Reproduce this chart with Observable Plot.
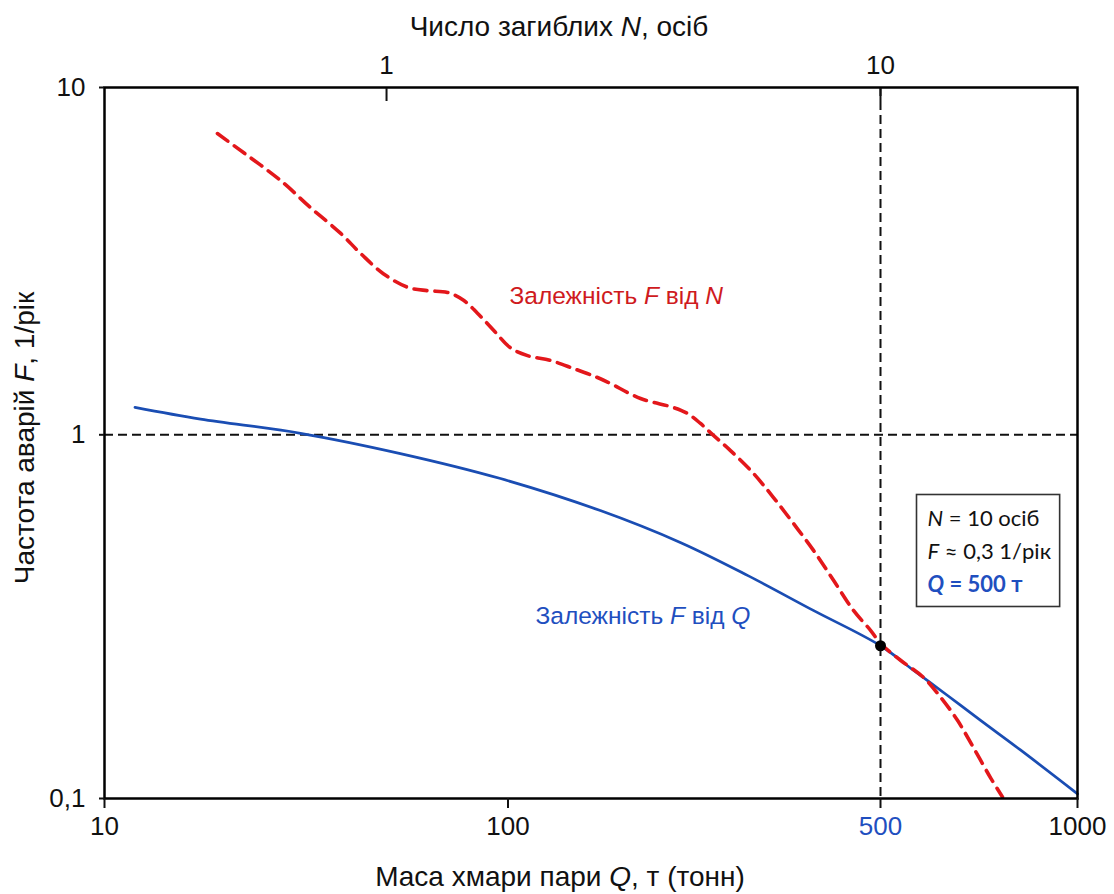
<!DOCTYPE html>
<html><head><meta charset="utf-8">
<script src="https://cdn.jsdelivr.net/npm/d3@7"></script>
<script src="https://cdn.jsdelivr.net/npm/@observablehq/plot@0.6"></script>
<style>
  body { margin: 0; background: #fff; }
  #chart svg { display: block; }
</style>
</head><body><div id="chart"></div>
<script>
// ---- tick values ----
const qTicks = [10, 100, 500, 1000];        // bottom axis: mass of vapour cloud Q, t
const qHighlight = 500;                      // highlighted tick (blue)
const nTicks = [1, 10];                      // top axis: number of fatalities N
const fTicks = [0.1, 1, 10];                 // left axis: frequency F, 1/year
const qPerVictim = 50;                       // N = 10 ↔ Q = 500 t (top/bottom axis relation)

// ---- F vs Q (blue solid) ----
const blueQ = [11.9, 17.3, 30.6, 54.1, 95.8, 149, 211, 282, 374, 500, 562, 633, 711, 818, 1000];
const blueF = [1.20, 1.11, 1.01, 0.888, 0.758, 0.619, 0.505, 0.410, 0.329, 0.263, 0.225, 0.192, 0.164, 0.136, 0.103];

// ---- F vs N (red dashed) ----
const redN = [0.381, 0.418, 0.546, 0.648, 0.770, 0.862, 0.982, 1.128, 1.264, 1.416, 1.552, 1.680, 1.842, 2.022,
              2.176, 2.404, 2.654, 2.944, 3.114, 3.546, 4.09, 4.344, 4.594, 4.86, 5.23, 5.776, 6.298, 6.868, 7.486,
              8.162, 8.898, 9.578, 10, 10.73, 11.64, 12.35, 13.11, 13.87, 14.73, 15.36];
const redF = [7.37, 6.81, 5.40, 4.51, 3.80, 3.33, 2.91, 2.66, 2.60, 2.57, 2.44, 2.24, 2.00, 1.78,
              1.69, 1.637, 1.552, 1.462, 1.405, 1.272, 1.198, 1.152, 1.078, 0.996, 0.905, 0.783, 0.672, 0.570, 0.481,
              0.398, 0.329, 0.290, 0.267, 0.240, 0.215, 0.190, 0.164, 0.138, 0.114, 0.101];

// ---- highlighted point ----
const pointQ = [500];
const pointF = [0.263];

// ---- texts ----
const topTitle = "Число загиблих N, осіб";
const bottomTitle = "Маса хмари пари Q, т (тонн)";
const leftTitle = "Частота аварій F, 1/рік";
const redLabel = "Залежність F від N";
const blueLabel = "Залежність F від Q";
const boxLines = ["N = 10 осіб", "F ≈ 0,3 1/рік", "Q = 500 т"];

const blueData = blueQ.map((q, i) => ({Q: q, F: blueF[i]}));
const redData = redN.map((n, i) => ({N: n, F: redF[i]}));
const pointData = pointQ.map((q, i) => ({Q: q, F: pointF[i]}));

const BLUE = "#1a4db3", RED = "#e3171b", RED_TXT = "#cf1a20", BLUE_TXT = "#1f4fbf";
const SANS = "'Liberation Sans', Arial, sans-serif";
const BOXFONT = "Lato, 'Open Sans', sans-serif";

const chart = Plot.plot({
  width: 1114, height: 894,
  marginLeft: 104, marginRight: 37, marginTop: 87, marginBottom: 96,
  style: {fontFamily: SANS, background: "#fff", color: "#111", overflow: "visible"},
  x: {type: "log", domain: [10, 100, 500, 1000], range: [104, 507.5, 880, 1077]},
  y: {type: "log", domain: [0.1, 1, 10], range: [798, 434.3, 87]},
  marks: [
    Plot.ruleY([1], {stroke: "#111", strokeWidth: 2, strokeDasharray: "9,5"}),
    Plot.ruleX([qHighlight], {stroke: "#111", strokeWidth: 2, strokeDasharray: "9,5"}),
    Plot.line(blueData, {x: "Q", y: "F", stroke: BLUE, strokeWidth: 2.7, curve: "catmull-rom"}),
    Plot.line(redData, {x: d => d.N * qPerVictim, y: "F", stroke: RED, strokeWidth: 3.6,
                        strokeDasharray: "13,8", curve: "catmull-rom"}),
    Plot.dot(pointData, {x: "Q", y: "F", r: 5.5, fill: "#000", stroke: "none"}),
    Plot.frame({stroke: "#000", strokeWidth: 2.5}),
    // bottom axis
    Plot.axisX(qTicks, {anchor: "bottom", tickSize: 10, tickPadding: 8, fontSize: 26, strokeWidth: 2,
                        tickFormat: d => d === qHighlight ? "" : String(d), label: null}),
    Plot.axisX([qHighlight], {anchor: "bottom", tickSize: 0, tickPadding: 18, fontSize: 26, fill: BLUE_TXT,
                              tickFormat: d => String(d), label: null}),
    // top axis (N)
    Plot.axisX(nTicks.map(n => n * qPerVictim), {anchor: "top", tickSize: -13, strokeWidth: 2,
                              tickFormat: () => "", label: null}),
    Plot.axisX(nTicks.map(n => n * qPerVictim), {anchor: "top", tickSize: 0, tickPadding: 14, fontSize: 26,
                              tickFormat: d => String(d / qPerVictim), label: null}),
    // left axis
    Plot.axisY(fTicks, {anchor: "left", tickSize: 5, tickPadding: 14, fontSize: 26, strokeWidth: 2,
                        tickFormat: d => String(d).replace(".", ","), label: null}),
    // titles
    Plot.text([topTitle], {frameAnchor: "top", dx: -32, dy: -60, fontSize: 28, lineAnchor: "middle"}),
    Plot.text([bottomTitle], {frameAnchor: "bottom", dx: -31, dy: 79, fontSize: 28, lineAnchor: "middle"}),
    Plot.text([leftTitle], {frameAnchor: "left", dx: -79, dy: -5, rotate: -90, fontSize: 28,
                            textAnchor: "middle", lineAnchor: "middle"}),
    // curve labels
    Plot.text([redLabel], {frameAnchor: "top-left", dx: 405, dy: 216, textAnchor: "start", lineAnchor: "bottom",
                           fontSize: 24.5, fill: RED_TXT}),
    Plot.text([blueLabel], {frameAnchor: "top-left", dx: 431, dy: 536, textAnchor: "start", lineAnchor: "bottom",
                            fontSize: 24.5, fill: BLUE_TXT}),
    // annotation box text
    ...boxLines.map((s, i) => Plot.text([s], {frameAnchor: "top-left", dx: 823, dy: 438 + 33 * i,
        textAnchor: "start", lineAnchor: "bottom", fontSize: 22, fontFamily: BOXFONT,
        fill: i === 2 ? BLUE_TXT : "#111", fontWeight: i === 2 ? "bold" : "normal"}))
  ]
});

document.getElementById("chart").appendChild(chart);

// italic variable letters (F, N, Q) inside real text
const svg = d3.select(chart);
svg.selectAll("text").each(function () {
  const el = d3.select(this);
  if (el.selectAll("tspan").size() > 0) return;
  const s = el.text();
  if (!/(^|[\s])[FNQ]($|[\s,])/.test(s)) return;
  const parts = s.split(/(?<=^|\s)([FNQ])(?=$|[\s,])/);
  el.text(null);
  parts.forEach((p, k) => {
    if (p === "") return;
    const ts = el.append("tspan").text(p);
    if (k % 2 === 1) ts.attr("font-style", "italic");
  });
});

// box around annotation lines (measured from the rendered text)
const boxEls = svg.selectAll("text").filter(function () { return boxLines.includes(this.textContent); }).nodes();
if (boxEls.length) {
  const sr = chart.getBoundingClientRect();
  let x0 = Infinity, y0 = Infinity, x1 = -Infinity, y1 = -Infinity;
  boxEls.forEach(n => {
    const b = n.getBoundingClientRect();
    x0 = Math.min(x0, b.left - sr.left); y0 = Math.min(y0, b.top - sr.top);
    x1 = Math.max(x1, b.right - sr.left); y1 = Math.max(y1, b.bottom - sr.top);
  });
  const g = boxEls[0].closest("g");
  svg.insert("rect", () => g)
    .attr("x", x0 - 11).attr("y", y0 - 9).attr("width", x1 - x0 + 19).attr("height", y1 - y0 + 19)
    .attr("fill", "#fff").attr("stroke", "#333").attr("stroke-width", 1.6);
}
</script>
</body></html>
